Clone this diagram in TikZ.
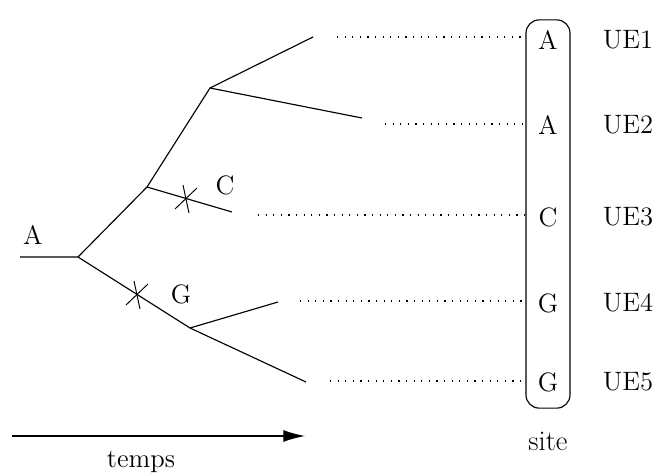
\documentclass[tikz,border=0pt]{standalone}
\usetikzlibrary{arrows.meta,positioning}

\begin{document}
\begin{tikzpicture}[x=0.0185cm,y=-0.0185cm,font=\fontsize{14}{17}\selectfont,branch/.style={line width=0.6pt},guide/.style={line width=0.6pt,dash pattern=on 0.6pt off 3.4pt},timearrow/.style={line width=0.6pt,-{Latex[length=4mm,width=2.2mm]}},cross/.pic={\draw[line width=0.5pt] (-11,10) -- (11,-11); \draw[line width=0.5pt] (-3,-14) -- (3,14);}]
\useasboundingbox (0,0) rectangle (656,474);
% tree
\coordinate (r0) at (20,257);
\coordinate (r) at (78,257);
\coordinate (u) at (147,187);
\coordinate (uu) at (210,88);
\coordinate (l) at (190,328);
\coordinate (e1) at (313,37);
\coordinate (e2) at (362,118);
\coordinate (e3) at (232,212);
\coordinate (e4) at (278,302);
\coordinate (e5) at (306,382);
\draw[branch] (r0) -- (r) -- (u) -- (uu) -- (e1);
\draw[branch] (uu) -- (e2);
\draw[branch] (u) -- (e3);
\draw[branch] (r) -- (l) -- (e4);
\draw[branch] (l) -- (e5);
\pic at (186,199) {cross};
\pic at (137,295) {cross};
\node (lA) at (33,235) {A};
\node (lC) at (225,185) {C};
\node (lG) at (181,294) {G};
% site
\node[draw,line width=0.6pt,rounded corners=7pt,minimum width=0.814cm,minimum height=7.18cm] (box) at (548,214) {};
\node[font=\fontsize{15}{18}\selectfont] (site) at (548,441) {site};
\foreach \y/\b/\n in {40/A/1,125/A/2,217/C/3,303/G/4,382/G/5}{
  \node (s\n) at (548,\y) {\b};
  \node (ue\n) at (628,\y) {UE\n};
}
\coordinate (d1) at (337,37);
\coordinate (d2) at (385,124);
\coordinate (d3) at (258,215);
\coordinate (d4) at (300,301);
\coordinate (d5) at (330,381);
\foreach \n in {1,...,5}{\draw[guide] (d\n) -- (d\n -| box.west);}
% time
\coordinate (t0) at (12,436);
\coordinate (t1) at (305,436);
\draw[timearrow] (t0) -- (t1);
\node (temps) at (141,462) {temps};
\end{tikzpicture}
\end{document}
